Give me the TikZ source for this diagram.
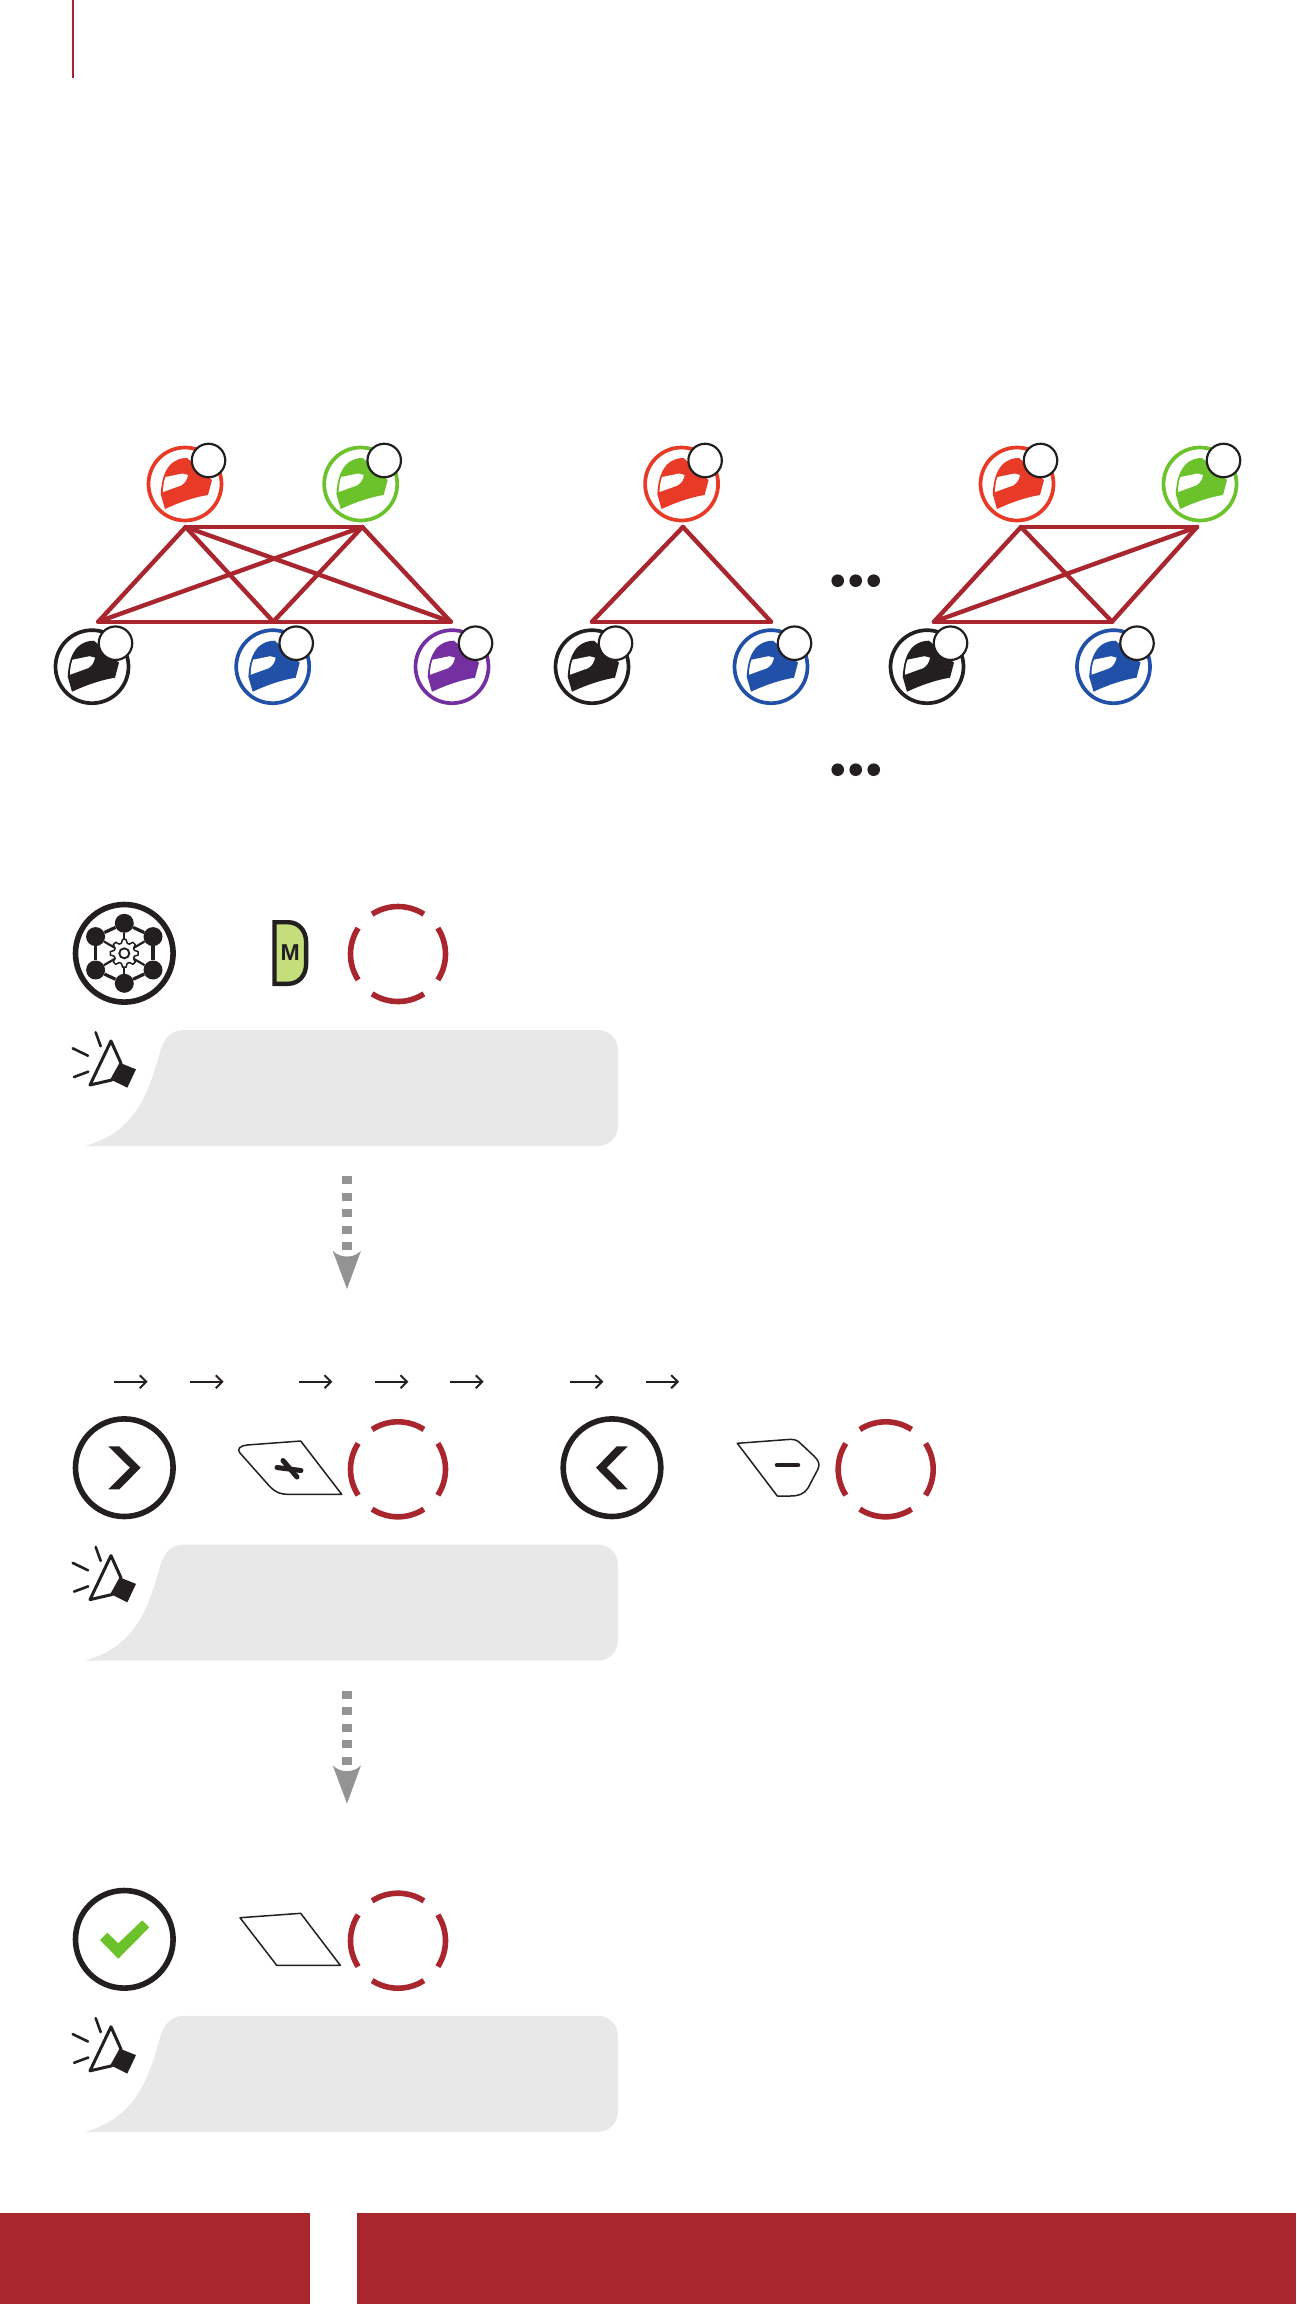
\documentclass[tikz,border=0pt]{standalone}
\usepackage{fontspec}
\setsansfont{Liberation Sans}
\usetikzlibrary{arrows.meta}

\definecolor{rossoscuro}{HTML}{A9262E}
\definecolor{cascorosso}{HTML}{E83A26}
\definecolor{cascoverde}{HTML}{6CC22B}
\definecolor{casconero}{HTML}{231F20}
\definecolor{cascoblu}{HTML}{2050A8}
\definecolor{cascoviola}{HTML}{7430A0}
\definecolor{grigiofumetto}{HTML}{E8E8E8}
\definecolor{grigiofreccia}{HTML}{939393}
\definecolor{verdetasto}{HTML}{C3DE7A}

% Casco nel cerchio colorato, con il cerchietto bianco in alto a destra
\newcommand{\casco}[3]{
    \begin{scope}[shift={(#2)}]
        \node [anello, draw=#3] (#1) at (0,0) {};
        \fill [#3] (-20,25) -- (-24.3,10) .. controls (-23.5,-3) and (-21,-12) .. (-15,-19)
            .. controls (-9,-25) and (-3,-26) .. (2,-26) -- (27,-4) -- (23,11)
            .. controls (10,13) and (-5,18) .. (-20,25) -- cycle;
        \fill [white] (-22,8) .. controls (-22,2) and (-21,-3) .. (-19.5,-7) -- (-2.5,-10.5)
            -- (3,-9) .. controls (2,-4) and (0,-1) .. (-4,1.5) -- cycle;
        \node [targhetta] (#1-num) at (23.5,-23.5) {};
    \end{scope}
}
% Anello rosso tratteggiato attorno al pulsante
\newcommand{\anellorosso}[1]{
    \foreach \a in {0,90,180,270} {
        \draw [rossoscuro, line width=5.6pt] (#1) ++(\a-33:47.5) arc [start angle=\a-33, end angle=\a+33, radius=47.5];
    }
}
% Fumetto grigio con altoparlante
\newcommand{\fumetto}[1]{
    \begin{scope}[shift={(0,#1)}]
        \fill [grigiofumetto] (85,1146) .. controls (135,1132) and (148,1095) .. (160,1052)
            .. controls (164,1037) and (172,1030) .. (184,1030) -- (598,1030)
            .. controls (609,1030) and (618,1039) .. (618,1050) -- (618,1126)
            .. controls (618,1137) and (609,1146) .. (598,1146) -- cycle;
        \draw [nero, line width=3pt, line join=round] (111,1041) -- (90,1085) -- (111.7,1080) -- (121,1063.3) -- cycle;
        \fill [nero] (121,1063.3) -- (136,1069.3) -- (127.3,1087.7) -- (111.7,1080) -- cycle;
        \draw [nero, line width=2.6pt, line cap=round] (95.7,1032.3) -- (100.7,1046.3);
        \draw [nero, line width=2.6pt, line cap=round] (72.7,1048.3) -- (88,1055.7);
        \draw [nero, line width=2.6pt, line cap=round] (74,1077) -- (88.3,1071.7);
    \end{scope}
}
% Freccia grigia tratteggiata verso il basso
\newcommand{\frecciagrigia}[2]{
    \begin{scope}[shift={(0,#2)}]
        \coordinate (#1-a) at (347,1176);
        \coordinate (#1-b) at (347,1250.5);
        \draw [tratteggio] (#1-a) -- (#1-b);
        \fill [grigiofreccia] (332.7,1250.7) .. controls (340,1258.5) and (354,1258.5) .. (361,1250.7) -- (347,1289) -- cycle;
    \end{scope}
}

\begin{document}
\begin{tikzpicture}[
        x=1pt, y=-1pt,
        nero/.style={color=casconero},
        anello/.style={circle, minimum size=73pt, inner sep=0pt, line width=3.7pt},
        targhetta/.style={circle, draw=casconero, fill=white, minimum size=33.5pt, inner sep=0pt, line width=2.2pt},
        tasto/.style={circle, draw=casconero, minimum size=97.6pt, inner sep=0pt, line width=5.6pt},
        maglia/.style={rossoscuro, line width=4.4pt, line cap=round},
        punto/.style={circle, fill=casconero, minimum size=12.6pt, inner sep=0pt},
        pallino/.style={circle, fill=casconero, minimum size=19pt, inner sep=0pt},
        sottile/.style={casconero, line width=1.5pt, line join=round},
        tratteggio/.style={grigiofreccia, line width=10pt, dash pattern=on 8pt off 8.6pt},
        frecciapiccola/.style={casconero, line width=2pt, -{Straight Barb[length=6.5pt, width=13pt]}}
    ]
    \useasboundingbox (0,0) rectangle (1296,2304);

    % 1. Linea in alto e fasce in basso
    \fill [rossoscuro] (72,0) rectangle (74,78);
    \fill [rossoscuro] (0,2213) rectangle (310,2304);
    \fill [rossoscuro] (357,2213) rectangle (1296,2304);

    % 2. Primo gruppo: cinque caschi
    \coordinate (a1) at (185.7,527);
    \coordinate (a2) at (362.3,527);
    \coordinate (a3) at (98.3,621.7);
    \coordinate (a4) at (273.3,621.7);
    \coordinate (a5) at (450.7,621.7);
    \foreach \p/\q in {a1/a2,a3/a5,a1/a3,a1/a4,a1/a5,a2/a3,a2/a4,a2/a5} {
        \draw [maglia] (\p) -- (\q);
    }
    \casco{rossoA}{185,484}{cascorosso}
    \casco{verdeA}{360.7,484}{cascoverde}
    \casco{neroA}{92,666.7}{casconero}
    \casco{bluA}{272.7,666.7}{cascoblu}
    \casco{violaA}{452,666.7}{cascoviola}

    % 3. Secondo gruppo: tre caschi
    \coordinate (b1) at (683,527);
    \coordinate (b2) at (592,621.7);
    \coordinate (b3) at (771,621.7);
    \foreach \p/\q in {b1/b2,b2/b3,b3/b1} {
        \draw [maglia] (\p) -- (\q);
    }
    \casco{rossoB}{681.6,484}{cascorosso}
    \casco{neroB}{592,666.7}{casconero}
    \casco{bluB}{771,666.7}{cascoblu}

    % 4. Terzo gruppo: quattro caschi
    \coordinate (c1) at (1021,527);
    \coordinate (c2) at (1197,527);
    \coordinate (c3) at (934,621.7);
    \coordinate (c4) at (1112,621.7);
    \foreach \p/\q in {c1/c2,c3/c4,c1/c3,c1/c4,c2/c3,c2/c4} {
        \draw [maglia] (\p) -- (\q);
    }
    \casco{rossoC}{1017,484}{cascorosso}
    \casco{verdeC}{1200,484}{cascoverde}
    \casco{neroC}{927,666.7}{casconero}
    \casco{bluC}{1113.5,666.7}{cascoblu}

    % Puntini
    \foreach \i/\xp in {1/837.7,2/855.7,3/873.7} {
        \node [punto] (puntoA\i) at (\xp,580.7) {};
        \node [punto] (puntoB\i) at (\xp,769.7) {};
    }

    % 5. Primo passo: configurazione
    \node [tasto] (config) at (124.3,953.3) {};
    \foreach \i/\xp/\yp in {1/0/-30,2/28.7/-16.7,3/28.7/16.7,4/0/30,5/-28.7/16.7,6/-28.7/-16.7} {
        \node [pallino] (rete\i) at (124.3+\xp,953.3+\yp) {};
    }
    \foreach \p/\q in {1/2,2/3,3/4,4/5,5/6,6/1} {
        \draw [casconero, line width=3.2pt] (rete\p) -- (rete\q);
    }
    \foreach \p/\q in {1/4,2/5,3/6} {
        \draw [casconero, line width=2.2pt] (rete\p) -- (rete\q);
    }
    \begin{scope}[shift={(124.3,953.3)}]
        \draw [casconero, fill=white, line width=1.5pt, line join=round] (-7:14)
            \foreach \a in {0,45,...,315} { -- (\a-7:14) -- (\a+7:14) -- (\a+16:10.5) -- (\a+29:10.5) } -- cycle;
        \draw [casconero, fill=white, line width=1.9pt] (0,0) circle (5);
    \end{scope}

    \draw [casconero, fill=verdetasto, line width=4.4pt, line join=miter] (274.5,922.2) -- (288,922.2)
        .. controls (299,922.2) and (306.1,931) .. (306.1,942) -- (306.1,964)
        .. controls (306.1,975) and (299,983.8) .. (288,983.8) -- (274.5,983.8) -- cycle;
    \node [casconero, font=\sffamily\bfseries\fontsize{23}{23}\selectfont, inner sep=0pt] (emme) at (290.3,953) {M};
    \coordinate (anello1) at (398,954);
    \anellorosso{anello1}
    \fumetto{0}
    \frecciagrigia{giu1}{0}

    % 6. Secondo passo: scelta con le frecce
    \foreach \i/\xp in {1/114.3,2/190.3,3/299,4/375,5/450.3,6/570,7/645.7} {
        \coordinate (da\i) at (\xp,1381.7);
        \coordinate (ad\i) at (\xp+33.4,1381.7);
        \draw [frecciapiccola] (da\i) -- (ad\i);
    }
    \node [tasto] (avanti) at (124.3,1467.7) {};
    \fill [casconero] (108.3,1446.3) -- (119.3,1446.3) -- (140.7,1467.7) -- (119.3,1489.3) -- (108.3,1489.3) -- (130,1467.7) -- cycle;
    \draw [sottile] (300.7,1441) -- (247,1445) .. controls (241,1445.5) and (236,1449) .. (240,1453)
        -- (270,1486.7) .. controls (275,1491.5) and (279,1494.3) .. (288,1494.3) -- (341.7,1494.3) -- cycle;
    \draw [casconero, line width=5pt, line cap=round] (277,1467.5) -- (301,1470.5);
    \draw [casconero, line width=5pt, line cap=round] (283,1460.5) -- (297,1477);
    \coordinate (anello2) at (398,1469.3);
    \anellorosso{anello2}

    \node [tasto] (indietro) at (612,1467.7) {};
    \fill [casconero] (627.7,1446.3) -- (616.7,1446.3) -- (596,1467.7) -- (617.3,1489.3) -- (627.7,1489.3) -- (606.7,1467.7) -- cycle;
    \draw [sottile] (737.3,1443.3) -- (788,1439.5) .. controls (793,1439.2) and (796,1439.5) .. (799,1442)
        -- (814,1456) .. controls (819,1461) and (820,1464) .. (818,1469) -- (808,1488)
        .. controls (804,1494) and (799,1496) .. (790,1496) -- (777.3,1496) -- cycle;
    \draw [casconero, line width=4.5pt, line cap=round] (777,1465) -- (798,1465);
    \coordinate (anello3) at (885.7,1469.3);
    \anellorosso{anello3}
    \fumetto{514.6}
    \frecciagrigia{giu2}{514.6}

    % 7. Terzo passo: conferma
    \node [tasto] (conferma) at (124.3,1939.3) {};
    \fill [cascoverde] (100,1940) -- (107.3,1932.7) -- (118.3,1943.3) -- (142.3,1920.3) -- (149.3,1927.3) -- (118.3,1958.7) -- cycle;
    \draw [sottile] (240,1917.7) -- (300.7,1913.3) -- (340.3,1965.3) -- (276.7,1965.3) -- cycle;
    \coordinate (anello4) at (398,1940.7);
    \anellorosso{anello4}
    \fumetto{985.8}
\end{tikzpicture}
\end{document}
